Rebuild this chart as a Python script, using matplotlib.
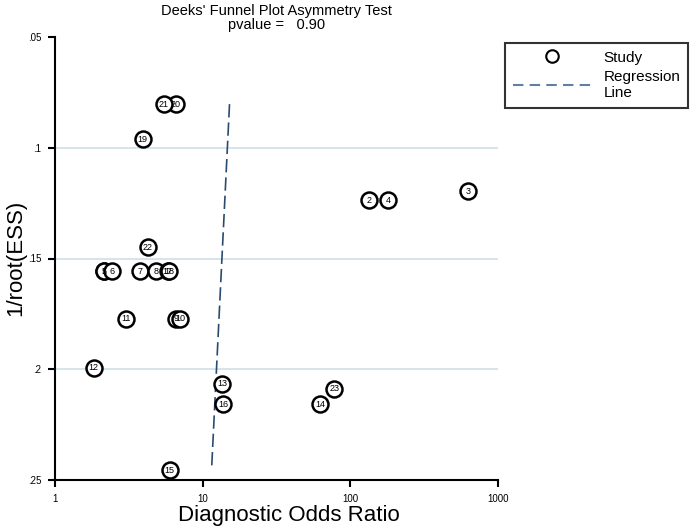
import matplotlib
matplotlib.use("Agg")
import matplotlib.pyplot as plt
from matplotlib.lines import Line2D

plt.rcParams['font.family'] = ['Liberation Sans', 'DejaVu Sans']

study_ids = [1, 2, 3, 4, 5, 6, 7, 8, 9, 10, 11, 12, 13, 14, 15, 16, 17, 18, 19, 20, 21, 22, 23]
dor = [2.14, 134, 627, 181, 2.14, 2.45, 3.75, 4.84, 6.57, 7.07, 3.02, 1.83, 13.5, 62.4, 5.98, 13.8, 5.80, 5.92, 3.93, 6.57, 5.45, 4.25, 78.0]
inv_root_ess = [0.1558, 0.1236, 0.1196, 0.1236, 0.1558, 0.1558, 0.1558, 0.1558, 0.1771, 0.1771, 0.1771, 0.1994, 0.2066, 0.2159, 0.2456, 0.2159, 0.1558, 0.1558, 0.0961, 0.0803, 0.0803, 0.1449, 0.2089]

reg_x = [15.2, 11.5]
reg_y = [0.0803, 0.2447]

y_ticks = [0.05, 0.1, 0.15, 0.2, 0.25]
y_tick_labels = ['.05', '.1', '.15', '.2', '.25']
x_ticks = [1, 10, 100, 1000]
x_tick_labels = ['1', '10', '100', '1000']
grid_y = [0.1, 0.15, 0.2]

fig = plt.figure(figsize=(7.0, 5.29), dpi=100)
ax = fig.add_axes([55/700, 1-480/529, (498-55)/700, (480-37)/529])

ax.set_xscale('log')
ax.set_xlim(1, 1000)
ax.set_ylim(0.25, 0.05)

for g in grid_y:
    ax.axhline(g, color='#d3e2ea', lw=1.3, zorder=0)

ax.plot(reg_x, reg_y, color='#2b4a70', lw=1.2, dashes=(8, 3), zorder=1)

for sid, x, y in zip(study_ids, dor, inv_root_ess):
    ax.plot([x], [y], marker='o', ms=11.5, mfc='white', mec='black', mew=1.8, zorder=3, ls='none')
    ax.text(x, y, str(sid), ha='center', va='center', fontsize=6.5, zorder=4, color='black')

for s in ['top', 'right']:
    ax.spines[s].set_visible(False)
for s in ['left', 'bottom']:
    ax.spines[s].set_linewidth(1.5)

ax.set_yticks(y_ticks)
ax.set_yticklabels(y_tick_labels, fontsize=7)
ax.set_xticks(x_ticks)
ax.set_xticklabels(x_tick_labels, fontsize=7)
ax.minorticks_off()
ax.tick_params(axis='both', length=5, width=1.5, pad=5)

fig.text(289/700, 1-516/529, 'Diagnostic Odds Ratio', fontsize=16, ha='center', va='center')
fig.text(16/700, 1-258/529, '1/root(ESS)', fontsize=16, ha='center', va='center', rotation=90)

ax.set_title("Deeks' Funnel Plot Asymmetry Test\npvalue =   0.90", fontsize=10.5, linespacing=1.0, pad=6)

handles = [
    Line2D([0], [0], marker='o', ls='none', mfc='white', mec='black', mew=1.5, ms=9),
    Line2D([0], [0], color='#5f7fa8', lw=1.5, dashes=(5, 3)),
]
leg = fig.legend(handles, ['Study', 'Regression\nLine'], loc='upper left',
                 bbox_to_anchor=(505/700, 1-43/529), fontsize=11,
                 frameon=True, fancybox=False, edgecolor='black',
                 handlelength=5.1, handletextpad=0.85, borderpad=0.5, labelspacing=0.35,
                 borderaxespad=0)
leg.get_frame().set_linewidth(1.5)

fig.savefig('out.png', dpi=100)
